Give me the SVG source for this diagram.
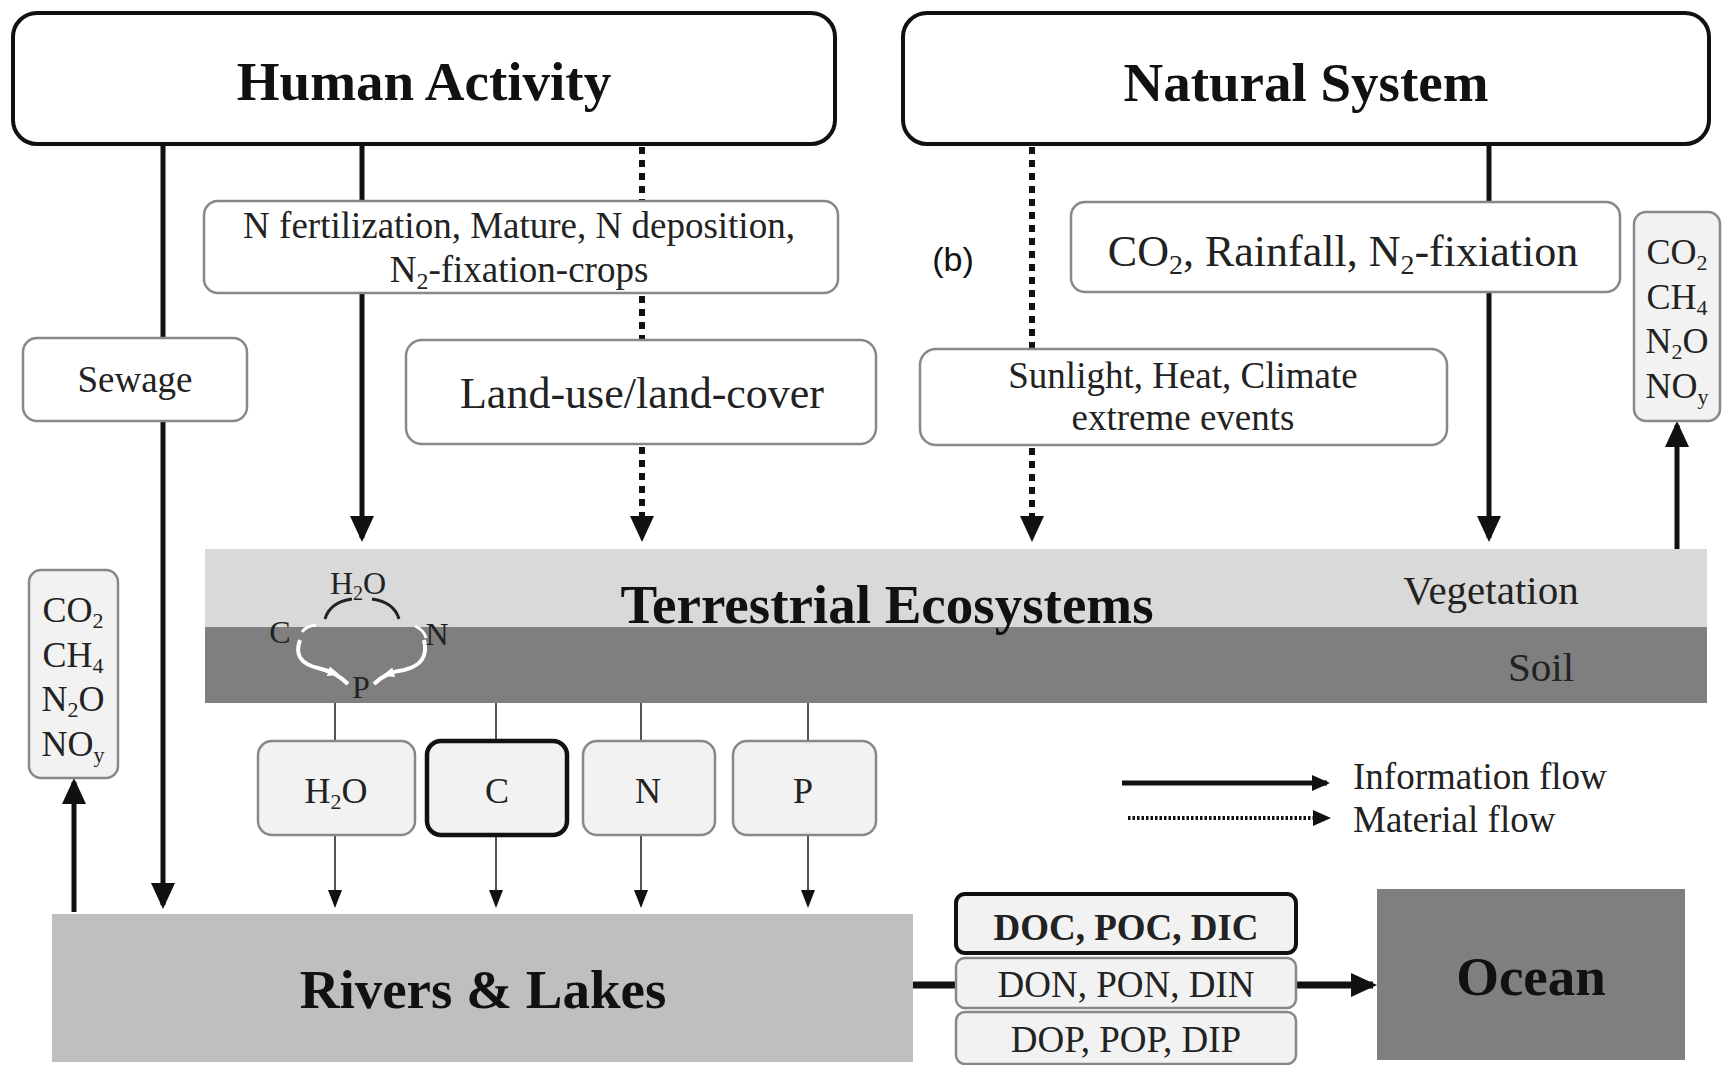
<svg xmlns="http://www.w3.org/2000/svg" width="1722" height="1065" viewBox="0 0 1722 1065">
<style>
.title{font-family:"Liberation Serif","Times New Roman",serif;font-weight:bold;font-size:55px;fill:#111;text-anchor:middle}
.lbl{font-family:"Liberation Serif","Times New Roman",serif;font-size:37px;fill:#222;text-anchor:middle}
.lbl44{font-family:"Liberation Serif","Times New Roman",serif;font-size:44px;fill:#222;text-anchor:middle}
.gas{font-family:"Liberation Serif","Times New Roman",serif;font-size:36px;fill:#222;text-anchor:middle}
.leg{font-family:"Liberation Serif","Times New Roman",serif;font-size:37px;fill:#222}
.hbox{fill:#fff;stroke:#111;stroke-width:4}
.box{fill:#fff;stroke:#888;stroke-width:2.5}
.gbox{fill:#f2f2f2;stroke:#888;stroke-width:2.5}
.solid{stroke:#111;stroke-width:5;fill:none}
.dot{stroke:#111;stroke-width:6;stroke-dasharray:7 6;fill:none}
.thin{stroke:#555;stroke-width:2;fill:none}
.wloop{fill:none;stroke:#fff;stroke-width:4}
</style>
<defs>
<marker id="big" markerUnits="userSpaceOnUse" markerWidth="26" markerHeight="24" refX="22" refY="12" orient="auto">
<path d="M0,0 L26,12 L0,24 z" fill="#111"/>
</marker>
<marker id="small" markerUnits="userSpaceOnUse" markerWidth="18" markerHeight="14" refX="16" refY="7" orient="auto">
<path d="M0,0 L18,7 L0,14 z" fill="#111"/>
</marker>
<marker id="leg" markerUnits="userSpaceOnUse" markerWidth="18" markerHeight="16" refX="15" refY="8" orient="auto">
<path d="M0,0 L18,8 L0,16 z" fill="#111"/>
</marker>
<marker id="wh" markerUnits="userSpaceOnUse" markerWidth="12" markerHeight="10" refX="6" refY="5" orient="auto">
<path d="M0,0 L12,5 L0,10 z" fill="#fff"/>
</marker>
</defs>

<g id="terrestrial">
<rect x="205" y="549" width="1502" height="78" fill="#d9d9d9"/>
<rect x="205" y="627" width="1502" height="76" fill="#7f7f7f"/>
<text class="title" x="887" y="623">Terrestrial Ecosystems</text>
<text class="lbl" x="1491" y="604" style="font-size:41px">Vegetation</text>
<text class="lbl" x="1541" y="681" style="font-size:41px">Soil</text>
</g>

<g id="cycle">
<path d="M325,619 Q330,602 352,599" fill="none" stroke="#222" stroke-width="3"/>
<path d="M372,599 Q394,602 399,619" fill="none" stroke="#222" stroke-width="3"/>
<path class="wloop" d="M300,640 Q292,662 318,668 Q336,672 348,684"/>
<path d="M318,668 L334,673" fill="none" stroke="none" marker-end="url(#wh)"/>
<path class="wloop" d="M374,684 Q386,672 404,670 Q430,664 424,640"/>
<path d="M398,671 L388,674" fill="none" stroke="none" marker-end="url(#wh)"/>
<path d="M415,626 Q424,630 426,638" fill="none" stroke="#fff" stroke-width="3"/>
<path d="M302,632 Q306,626 316,625" fill="none" stroke="#fff" stroke-width="3"/>
<text class="gas" x="358" y="594" style="font-size:32px">H<tspan font-size="20" dy="6">2</tspan><tspan dy="-6">O</tspan></text>
<text class="gas" x="280" y="643" style="font-size:32px">C</text>
<text class="gas" x="437" y="645" style="font-size:32px">N</text>
<text class="gas" x="361" y="698" style="font-size:32px">P</text>
</g>

<g id="human-activity">
<rect class="hbox" x="13" y="13" width="822" height="131" rx="24"/>
<text class="title" x="424" y="100">Human Activity</text>
</g>

<g id="natural-system">
<rect class="hbox" x="903" y="13" width="806" height="131" rx="24"/>
<text class="title" x="1306" y="101">Natural System</text>
</g>

<g id="connectors">
<line class="solid" x1="163" y1="144" x2="163" y2="338"/>
<line class="solid" x1="163" y1="421" x2="163" y2="905" marker-end="url(#big)"/>
<line class="solid" x1="362" y1="144" x2="362" y2="201"/>
<line class="solid" x1="362" y1="293" x2="362" y2="538" marker-end="url(#big)"/>
<line class="dot" x1="642" y1="147" x2="642" y2="201"/>
<line class="dot" x1="642" y1="296" x2="642" y2="340"/>
<line class="dot" x1="642" y1="447" x2="642" y2="528"/>
<line class="solid" x1="642" y1="525" x2="642" y2="538" marker-end="url(#big)" style="stroke-width:3"/>
<line class="dot" x1="1032" y1="147" x2="1032" y2="349"/>
<line class="dot" x1="1032" y1="448" x2="1032" y2="528"/>
<line class="solid" x1="1032" y1="525" x2="1032" y2="538" marker-end="url(#big)" style="stroke-width:3"/>
<line class="solid" x1="1489" y1="144" x2="1489" y2="202"/>
<line class="solid" x1="1489" y1="292" x2="1489" y2="538" marker-end="url(#big)"/>
<line class="solid" x1="1677" y1="549" x2="1677" y2="425" marker-end="url(#big)"/>
<line class="solid" x1="74" y1="912" x2="74" y2="782" marker-end="url(#big)"/>
<line class="thin" x1="335" y1="703" x2="335" y2="741"/>
<line class="thin" x1="496" y1="703" x2="496" y2="741"/>
<line class="thin" x1="641" y1="703" x2="641" y2="741"/>
<line class="thin" x1="808" y1="703" x2="808" y2="741"/>
<line class="thin" x1="335" y1="835" x2="335" y2="906" marker-end="url(#small)"/>
<line class="thin" x1="496" y1="836" x2="496" y2="906" marker-end="url(#small)"/>
<line class="thin" x1="641" y1="835" x2="641" y2="906" marker-end="url(#small)"/>
<line class="thin" x1="808" y1="835" x2="808" y2="906" marker-end="url(#small)"/>
<line class="solid" x1="913" y1="985" x2="956" y2="985" style="stroke-width:7"/>
<line class="solid" x1="1296" y1="985" x2="1373" y2="985" style="stroke-width:7" marker-end="url(#big)"/>
</g>

<g id="n-fertilization">
<rect class="box" x="204" y="201" width="634" height="92" rx="14"/>
<text class="lbl" x="519" y="238">N fertilization, Mature, N deposition,</text>
<text class="lbl" x="519" y="282">N<tspan font-size="24" dy="7">2</tspan><tspan dy="-7">-fixation-crops</tspan></text>
</g>

<g id="sewage">
<rect class="box" x="23" y="338" width="224" height="83" rx="14"/>
<text class="lbl" x="135" y="392">Sewage</text>
</g>

<g id="land-use">
<rect class="box" x="406" y="340" width="470" height="104" rx="16"/>
<text class="lbl44" x="642" y="408">Land-use/land-cover</text>
</g>

<g id="natural-inputs">
<rect class="box" x="1071" y="202" width="549" height="90" rx="14"/>
<text class="lbl44" x="1343" y="266">CO<tspan font-size="28" dy="8">2</tspan><tspan dy="-8">, Rainfall, N</tspan><tspan font-size="28" dy="8">2</tspan><tspan dy="-8">-fixiation</tspan></text>
</g>

<g id="sunlight">
<rect class="box" x="920" y="349" width="527" height="96" rx="16"/>
<text class="lbl" x="1183" y="388">Sunlight, Heat, Climate</text>
<text class="lbl" x="1183" y="430">extreme events</text>
</g>

<g id="label-b">
<text x="953" y="271" style="font-family:'Liberation Sans',Arial,sans-serif;font-size:34px;fill:#111;text-anchor:middle">(b)</text>
</g>

<g id="gas-right">
<rect class="gbox" x="1634" y="212" width="86" height="209" rx="12"/>
<text class="gas" x="1677" y="264">CO<tspan font-size="22" dy="6">2</tspan></text>
<text class="gas" x="1677" y="309">CH<tspan font-size="22" dy="6">4</tspan></text>
<text class="gas" x="1677" y="353">N<tspan font-size="22" dy="6">2</tspan><tspan dy="-6">O</tspan></text>
<text class="gas" x="1677" y="398">NO<tspan font-size="22" dy="6">y</tspan></text>
</g>

<g id="gas-left">
<rect class="gbox" x="29" y="570" width="89" height="208" rx="12"/>
<text class="gas" x="73" y="622">CO<tspan font-size="22" dy="6">2</tspan></text>
<text class="gas" x="73" y="667">CH<tspan font-size="22" dy="6">4</tspan></text>
<text class="gas" x="73" y="711">N<tspan font-size="22" dy="6">2</tspan><tspan dy="-6">O</tspan></text>
<text class="gas" x="73" y="756">NO<tspan font-size="22" dy="6">y</tspan></text>
</g>

<g id="h2o">
<rect class="gbox" x="258" y="741" width="157" height="94" rx="14"/>
<text class="gas" x="336" y="803">H<tspan font-size="22" dy="6">2</tspan><tspan dy="-6">O</tspan></text>
</g>
<g id="c">
<rect class="gbox" x="427" y="741" width="140" height="94" rx="14" style="stroke:#111;stroke-width:4.5"/>
<text class="gas" x="497" y="803">C</text>
</g>
<g id="n">
<rect class="gbox" x="583" y="741" width="132" height="94" rx="14"/>
<text class="gas" x="648" y="803">N</text>
</g>
<g id="p">
<rect class="gbox" x="733" y="741" width="143" height="94" rx="14"/>
<text class="gas" x="803" y="803">P</text>
</g>

<g id="rivers-lakes">
<rect x="52" y="914" width="861" height="148" fill="#bfbfbf"/>
<text class="title" x="483" y="1008">Rivers &amp; Lakes</text>
</g>

<g id="doc">
<rect class="gbox" x="956" y="894" width="340" height="59" rx="9" style="stroke:#111;stroke-width:4"/>
<text class="lbl" x="1126" y="940" style="font-weight:bold">DOC, POC, DIC</text>
</g>
<g id="don">
<rect class="gbox" x="956" y="958" width="340" height="50" rx="9"/>
<text class="lbl" x="1126" y="997">DON, PON, DIN</text>
</g>
<g id="dop">
<rect class="gbox" x="956" y="1012" width="340" height="52" rx="9"/>
<text class="lbl" x="1126" y="1052">DOP, POP, DIP</text>
</g>

<g id="ocean">
<rect x="1377" y="889" width="308" height="171" fill="#7f7f7f"/>
<text class="title" x="1531" y="995">Ocean</text>
</g>

<g id="legend">
<line x1="1122" y1="783" x2="1327" y2="783" stroke="#111" stroke-width="5" marker-end="url(#leg)"/>
<text class="leg" x="1353" y="789">Information flow</text>
<line x1="1128" y1="818" x2="1320" y2="818" stroke="#111" stroke-width="4" stroke-dasharray="2.5 2"/>
<line x1="1318" y1="818" x2="1328" y2="818" stroke="#111" stroke-width="2" marker-end="url(#leg)"/>
<text class="leg" x="1353" y="832">Material flow</text>
</g>
</svg>
